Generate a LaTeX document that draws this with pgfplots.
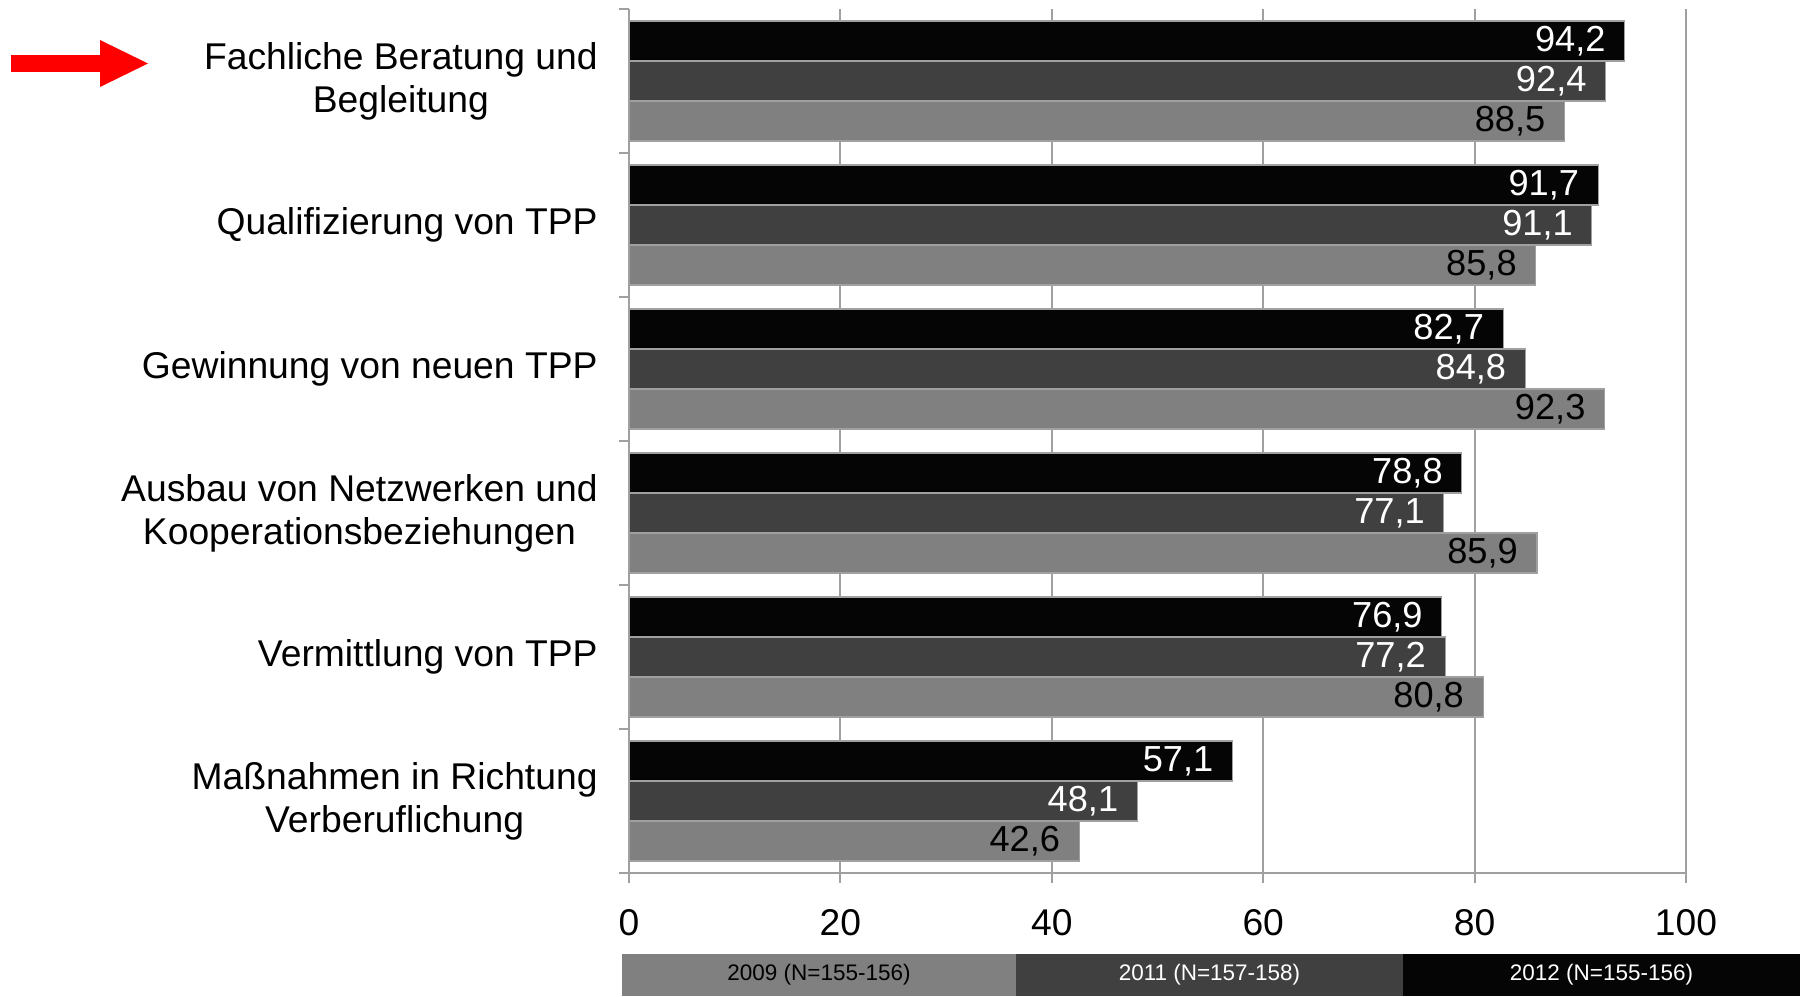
\documentclass[border=0pt]{standalone}
\usepackage{fontspec}
\setmainfont{Liberation Sans}
\usepackage{pgfplots}
\pgfplotsset{compat=1.18}
\definecolor{cA}{HTML}{808080}
\definecolor{cB}{HTML}{404040}
\definecolor{cC}{HTML}{050505}
\definecolor{gridc}{HTML}{A0A0A0}
\begin{document}
\begin{tikzpicture}[x=1mm,y=1mm]
\path[use as bounding box] (0,0) rectangle (180,99.6);
\fill[red] (1.1,92.4) rectangle (10.1,94.1);
\fill[red] (10.0,95.6) -- (14.8,93.25) -- (10.0,90.9) -- cycle;
\begin{axis}[
  at={(62.9mm,12.3mm)}, anchor=south west,
  width=105.7mm, height=86.4mm, scale only axis,
  xmin=0, xmax=100, ymin=-0.5, ymax=5.5,
  xbar, bar width=4mm,
  axis lines*=left,
  axis line style={gridc, line width=0.6pt},
  xmajorgrids=true, ymajorgrids=false,
  major grid style={gridc, line width=0.6pt},
  tick align=outside, major tick length=1mm,
  xtick={0,20,40,60,80,100},
  xticklabels={0,20,40,60,80,100},
  xtick style={gridc, line width=0.6pt},
  ytick={0,1,2,3,4,5},
  ytick style={draw=none},
  yticklabels={{Maßnahmen in Richtung\\Verberuflichung},{Vermittlung von TPP},{Ausbau von Netzwerken und\\Kooperationsbeziehungen},{Gewinnung von neuen TPP},{Qualifizierung von TPP},{Fachliche Beratung und\\Begleitung}},
  yticklabel style={align=center, font=\fontsize{10.6}{12.2}\selectfont, xshift=-0.9mm},
  xticklabel style={font=\fontsize{10.6}{12.2}\selectfont, yshift=-1.4mm},
  extra y ticks={-0.5,0.5,1.5,2.5,3.5,4.5,5.5},
  extra y tick labels={},
  extra y tick style={ytick style={draw=gridc, line width=0.6pt}},
  /pgf/number format/assume math mode=true,
  /pgf/number format/.cd, use comma, fixed, fixed zerofill, precision=1,
  /pgfplots/.cd,
  nodes near coords,
  every node near coord/.append style={anchor=east, xshift=-0.7mm, font=\fontsize{10.3}{12}\selectfont},
  clip=false,
]
\addplot[fill=cA, draw=gridc, line width=0.3pt, bar shift=-4mm,
  every node near coord/.append style={text=black}]
  coordinates {(42.6,0) (80.8,1) (85.9,2) (92.3,3) (85.8,4) (88.5,5)};
\addplot[fill=cB, draw=gridc, line width=0.3pt, bar shift=0mm,
  every node near coord/.append style={text=white}]
  coordinates {(48.1,0) (77.2,1) (77.1,2) (84.8,3) (91.1,4) (92.4,5)};
\addplot[fill=cC, draw=gridc, line width=0.3pt, bar shift=4mm,
  every node near coord/.append style={text=white}]
  coordinates {(57.1,0) (76.9,1) (78.8,2) (82.7,3) (91.7,4) (94.2,5)};
\end{axis}
\fill[cA] (62.2,0) rectangle (101.6,4.2);
\fill[cB] (101.6,0) rectangle (140.3,4.2);
\fill[cC] (140.3,0) rectangle (180,4.2);
\node[font=\fontsize{6.4}{7.2}\selectfont, text=black] at (81.9,2.1) {2009 (N=155-156)};
\node[font=\fontsize{6.4}{7.2}\selectfont, text=white] at (120.95,2.1) {2011 (N=157-158)};
\node[font=\fontsize{6.4}{7.2}\selectfont, text=white] at (160.15,2.1) {2012 (N=155-156)};
\end{tikzpicture}
\end{document}
